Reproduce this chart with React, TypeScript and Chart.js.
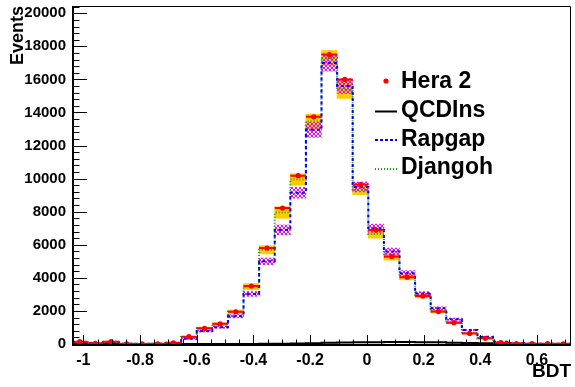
import React, { useEffect, useRef } from "react";
import { Chart, registerables } from "chart.js";

Chart.register(...registerables);

// ---- data ----
const binEdges = [
  -1.04, -0.985, -0.93, -0.875, -0.82, -0.765, -0.71, -0.655, -0.6, -0.545, -0.49,
  -0.435, -0.38, -0.325, -0.27, -0.215, -0.16, -0.105, -0.05, 0.005, 0.06, 0.115,
  0.17, 0.225, 0.28, 0.335, 0.39, 0.445, 0.5, 0.555, 0.61, 0.665, 0.72,
];
const hera2 = [
  140, 40, 140, 10, 5, 10, 70, 440, 950, 1220, 1950, 3500, 5800, 8220, 10180, 13740,
  17500, 16000, 9640, 6900, 5290, 4040, 2900, 1960, 1290, 640, 345, 80, 30, 20, 20, 10,
];
const qcdins = [
  0, 0, 0, 0, 0, 0, 0, 0, 0, 0, 0, 5, 10, 20, 30, 50, 70, 90, 100, 110, 120, 120,
  110, 100, 80, 60, 40, 20, 10, 5, 0, 0,
];
const rapgap = [
  100, 60, 110, 20, 10, 10, 60, 320, 780, 1020, 1680, 3030, 5000, 6900, 9150, 12950,
  17000, 15600, 9500, 7000, 5600, 4280, 3050, 2160, 1500, 850, 440, 140, 40, 20, 10, 10,
];
const djangoh = [
  120, 60, 130, 20, 10, 10, 70, 420, 950, 1200, 1950, 3470, 5700, 7950, 9950, 13450,
  17300, 15400, 9330, 6650, 5270, 4040, 2900, 1970, 1300, 660, 350, 90, 30, 15, 10, 5,
];
const rapgapErr = [
  10, 10, 10, 5, 5, 5, 10, 40, 60, 70, 100, 150, 200, 300, 330, 450, 500, 450, 300,
  250, 200, 160, 120, 90, 70, 40, 25, 10, 5, 5, 5, 5,
];
const djangohErr = [
  10, 10, 10, 5, 5, 5, 10, 40, 70, 80, 110, 180, 250, 350, 350, 450, 450, 550, 300,
  250, 200, 160, 120, 90, 70, 40, 25, 10, 5, 5, 5, 5,
];
const xTickValues = [-1, -0.8, -0.6, -0.4, -0.2, 0, 0.2, 0.4, 0.6];
const yTickValues = [0, 2000, 4000, 6000, 8000, 10000, 12000, 14000, 16000, 18000, 20000];
const legendLabels = ["Hera 2", "QCDIns", "Rapgap", "Djangoh"];
const xTitle = "BDT";
const yTitle = "Events";

const X_MIN = -1.04;
const X_MAX = 0.72;
const Y_MAX = 20440;

const RED = "#ff0000";
const BLUE = "#0000ff";
const GREEN = "#1c9c1c";
const YELLOW = "#ffcc00";
const MAGENTA = "#ff00ff";
const FONT = "'Liberation Sans', Arial, Helvetica, sans-serif";

const centers = binEdges.slice(0, -1).map((e, i) => (e + binEdges[i + 1]) / 2);

function stepPoints(vals: number[]) {
  const pts = vals.map((v, i) => ({ x: binEdges[i], y: v }));
  pts.push({ x: binEdges[vals.length], y: vals[vals.length - 1] });
  return pts;
}
function bandBars(vals: number[], errs: number[]) {
  return vals.map((v, i) => ({ x: centers[i], y: [Math.max(0, v - errs[i]), v + errs[i]] }));
}
function errSegments(vals: number[]) {
  const out: { x: number; y: number | null }[] = [];
  vals.forEach((v, i) => {
    out.push({ x: binEdges[i], y: v }, { x: binEdges[i + 1], y: v }, { x: binEdges[i + 1], y: null });
  });
  return out;
}

function makeHatch(ctx: CanvasRenderingContext2D) {
  const c = document.createElement("canvas");
  const n = 4;
  c.width = n;
  c.height = n;
  const g = c.getContext("2d")!;
  g.fillStyle = MAGENTA;
  for (let i = 0; i < n; i++) {
    g.fillRect(i, i, 1, 1);
    g.fillRect(n - 1 - i, i, 1, 1);
  }
  return ctx.createPattern(c, "repeat");
}

const frameTicksPlugin = {
  id: "frameTicks",
  afterDatasetsDraw(chart: any) {
    const { ctx, chartArea, scales } = chart;
    const { left, right, top, bottom } = chartArea;
    const xs = scales.x;
    const ys = scales.y;
    ctx.save();
    ctx.strokeStyle = "#000";
    ctx.lineWidth = 1;
    ctx.beginPath();
    ctx.moveTo(left, top + 0.5);
    ctx.lineTo(right - 0.5, top + 0.5);
    ctx.lineTo(right - 0.5, bottom);
    ctx.stroke();
    ctx.lineWidth = 2;
    ctx.beginPath();
    ctx.moveTo(left + 1, top);
    ctx.lineTo(left + 1, bottom + 1);
    ctx.lineTo(right, bottom + 1);
    ctx.stroke();
    ctx.lineWidth = 1;
    ctx.beginPath();
    for (let k = 0; k <= 40; k++) {
      const v = -1.0 + k * 0.05;
      if (v > X_MAX) break;
      const px = Math.round(xs.getPixelForValue(v)) + 0.5;
      const major = k % 4 === 0;
      ctx.moveTo(px, bottom);
      ctx.lineTo(px, bottom - (major ? 9 : 4.5));
    }
    for (let k = 0; k <= 60; k++) {
      const v = k * 400;
      if (v > Y_MAX) break;
      const py = Math.round(ys.getPixelForValue(v)) + 0.5;
      const major = k % 5 === 0;
      ctx.moveTo(left, py);
      ctx.lineTo(left + (major ? 15 : 7.5), py);
    }
    ctx.stroke();
    ctx.restore();
  },
};

const legendPlugin = {
  id: "rootLegend",
  afterDraw(chart: any) {
    const ctx = chart.ctx;
    const rows = [82, 111, 139.5, 168];
    const x0 = 375;
    const x1 = 397;
    ctx.save();
    ctx.fillStyle = RED;
    ctx.beginPath();
    ctx.arc(386, rows[0] - 1, 2.6, 0, Math.PI * 2);
    ctx.fill();
    const lines = [
      { y: rows[1] + 0.5, color: "#000", dash: [] as number[] },
      { y: rows[2] + 0.5, color: BLUE, dash: [3, 2] },
      { y: rows[3] + 1, color: GREEN, dash: [1, 2] },
    ];
    lines.forEach((l) => {
      ctx.strokeStyle = l.color;
      ctx.lineWidth = 2;
      ctx.setLineDash(l.dash);
      ctx.beginPath();
      ctx.moveTo(x0, l.y);
      ctx.lineTo(x1, l.y);
      ctx.stroke();
    });
    ctx.setLineDash([]);
    ctx.fillStyle = "#000";
    ctx.font = `bold 23px ${FONT}`;
    ctx.textBaseline = "middle";
    ctx.textAlign = "left";
    legendLabels.forEach((t, i) => ctx.fillText(t, 401, rows[i]));
    ctx.restore();
  },
};

export default function App() {
  const ref = useRef<HTMLCanvasElement>(null);
  useEffect(() => {
    const canvas = ref.current!;
    const ctx = canvas.getContext("2d")!;
    const hatch = makeHatch(ctx);
    const barCommon = {
      type: "bar" as const,
      grouped: false,
      barPercentage: 1,
      categoryPercentage: 1,
      borderWidth: 0,
    };
    const lineCommon = {
      type: "line" as const,
      stepped: "before" as const,
      pointRadius: 0,
      fill: false,
      borderWidth: 2,
    };
    const chart = new Chart(ctx, {
      type: "line",
      data: {
        datasets: [
          { ...barCommon, label: "Djangoh band", data: bandBars(djangoh, djangohErr) as any, backgroundColor: YELLOW, order: 7 },
          { ...barCommon, label: "Rapgap band", data: bandBars(rapgap, rapgapErr) as any, backgroundColor: hatch as any, order: 6 },
          { ...lineCommon, label: legendLabels[3], data: stepPoints(djangoh), borderColor: GREEN, borderDash: [1, 2], order: 5 },
          { ...lineCommon, label: legendLabels[2], data: stepPoints(rapgap), borderColor: BLUE, borderDash: [3, 3], order: 4 },
          { ...lineCommon, label: legendLabels[1], data: stepPoints(qcdins), borderColor: "#000", order: 3 },
          {
            type: "line",
            label: "Hera 2 bins",
            data: errSegments(hera2) as any,
            borderColor: RED,
            borderWidth: 2,
            pointRadius: 0,
            spanGaps: false,
            order: 2,
          },
          {
            type: "line",
            label: legendLabels[0],
            data: centers.map((c, i) => ({ x: c, y: hera2[i] })),
            showLine: false,
            pointRadius: 2.6,
            pointBackgroundColor: RED,
            pointBorderWidth: 0,
            order: 1,
          },
        ],
      },
      options: {
        animation: false,
        responsive: false,
        devicePixelRatio: 1,
        layout: { padding: { top: 6, right: 2, left: 0, bottom: 0 } },
        plugins: { legend: { display: false }, tooltip: { enabled: false } },
        scales: {
          x: {
            type: "linear",
            min: X_MIN,
            max: X_MAX,
            offset: false,
            grid: { display: false, drawTicks: false },
            border: { display: false },
            afterBuildTicks: (s: any) => {
              s.ticks = xTickValues.map((v) => ({ value: v }));
            },
            ticks: {
              autoSkip: false,
              maxRotation: 0,
              padding: 7,
              color: "#000",
              font: { family: FONT, weight: "bold", size: 16 },
              callback: (v: any) => String(Math.round(Number(v) * 10) / 10),
            },
            title: {
              display: true,
              text: xTitle,
              align: "end",
              color: "#000",
              font: { family: FONT, weight: "bold", size: 19 },
              padding: { top: 0, bottom: 4 },
            },
            afterFit: (s: any) => {
              s.height = 43;
              s.paddingLeft = 0;
              s.paddingRight = 0;
            },
          },
          y: {
            type: "linear",
            min: 0,
            max: Y_MAX,
            stacked: false,
            grid: { display: false, drawTicks: false },
            border: { display: false },
            afterBuildTicks: (s: any) => {
              s.ticks = yTickValues.map((v) => ({ value: v }));
            },
            ticks: {
              autoSkip: false,
              padding: 6,
              color: "#000",
              font: { family: FONT, weight: "bold", size: 15 },
              callback: (v: any) => String(v),
            },
            title: {
              display: true,
              text: yTitle,
              align: "end",
              color: "#000",
              font: { family: FONT, weight: "bold", size: 18 },
              padding: { top: 7, bottom: 0 },
            },
            afterFit: (s: any) => {
              s.width = 72;
              s.paddingTop = 0;
              s.paddingBottom = 0;
            },
          },
        },
      } as any,
      plugins: [frameTicksPlugin, legendPlugin],
    });
    return () => chart.destroy();
  }, []);
  return (
    <div style={{ position: "fixed", left: 0, top: 0, width: 575, height: 387, background: "#fff" }}>
      <canvas ref={ref} width={575} height={387} style={{ display: "block", width: 575, height: 387 }} />
    </div>
  );
}
